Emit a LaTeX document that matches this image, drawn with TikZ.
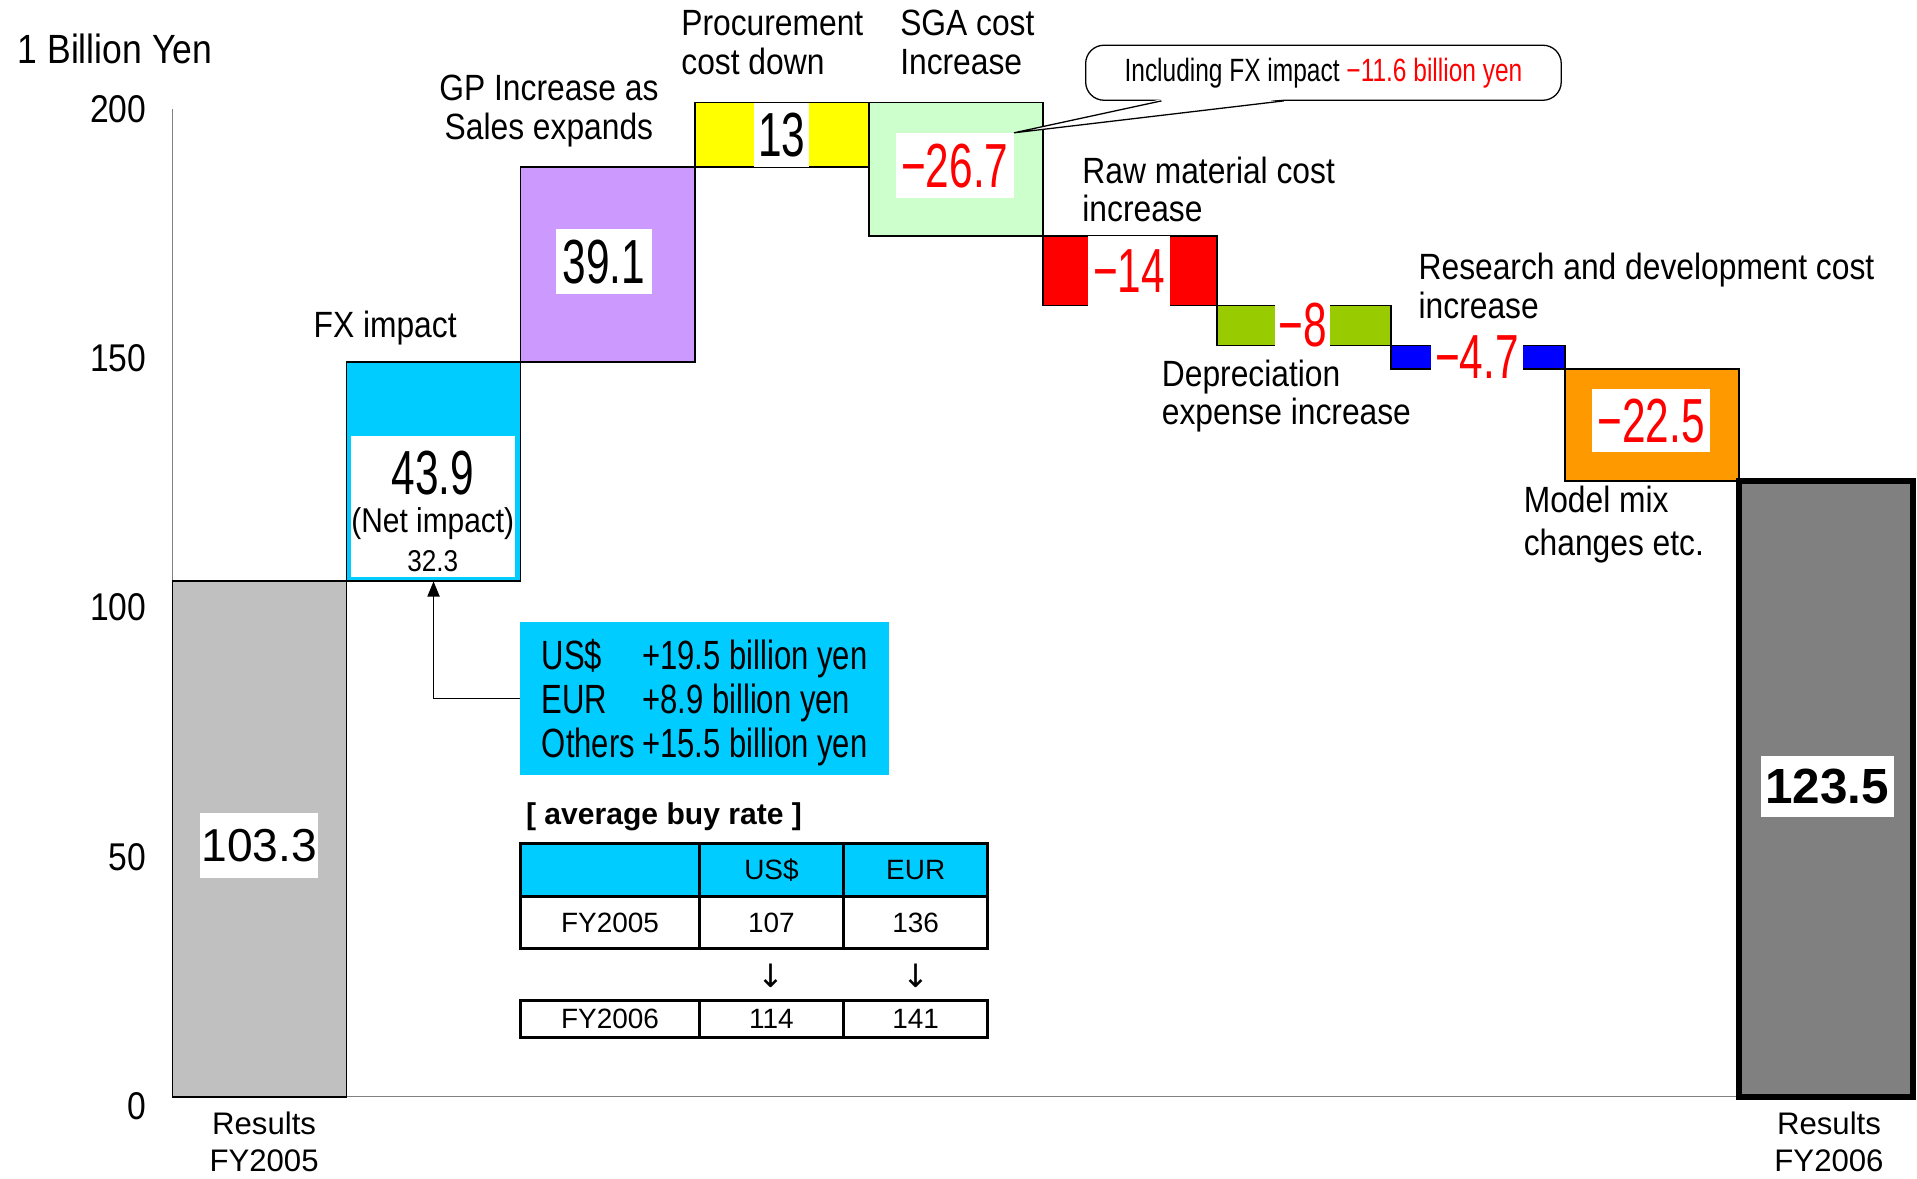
\documentclass[tikz,border=0pt]{standalone}
\usepackage{fontspec}
\setmainfont{Liberation Sans}
\newfontfamily\narrowfont[FakeStretch=0.87]{Liberation Sans}
\newfontfamily\condfont[FakeStretch=0.76]{Liberation Sans}
\newfontfamily\tallfont[FakeStretch=0.68]{Liberation Sans}
\newfontfamily\arrowfont{DejaVu Sans}
\usetikzlibrary{arrows.meta}

\definecolor{barGray}{HTML}{C0C0C0}
\definecolor{fxCyan}{HTML}{00CCFF}
\definecolor{gpPurple}{HTML}{CC99FF}
\definecolor{procYellow}{HTML}{FFFF00}
\definecolor{sgaGreen}{HTML}{CCFFCC}
\definecolor{rawRed}{HTML}{FF0000}
\definecolor{depGreen}{HTML}{99CC00}
\definecolor{rdBlue}{HTML}{0000FF}
\definecolor{mixOrange}{HTML}{FF9900}
\definecolor{resGray}{HTML}{808080}

\begin{document}
\begin{tikzpicture}[
  bar/.style={draw, line width=0.8pt},
  val/.style={fill=white, inner sep=0pt, font=\tallfont\fontsize{29}{29}\selectfont},
  neg/.style={val, text=red},
  lbl/.style={font=\narrowfont\fontsize{17}{18.1}\selectfont, align=left, anchor=west, inner sep=0pt},
  tick/.style={font=\narrowfont\fontsize{18}{18}\selectfont, anchor=east, inner sep=0pt},
  res/.style={font=\fontsize{14.5}{17.6}\selectfont, align=center, inner sep=0pt},
  cell/.style={draw, line width=1.4pt, inner sep=0pt, font=\fontsize{13}{13}\selectfont},
  c0/.style={cell, minimum width=2.92cm},
  c1/.style={cell, minimum width=2.36cm}
]
\useasboundingbox (0,0) rectangle (31.36,19.28);

% Axes and scale
\draw[resGray, line width=0.6pt] (2.82,17.5) -- (2.82,1.34) -- (31.3,1.34);
\foreach \v in {0,50,...,200}
  \node[tick] at (2.4,{1.18+0.0816*\v}) {\v};
\node[font=\narrowfont\fontsize{19}{19}\selectfont, inner sep=0pt] (unit) at (1.88,18.48) {1 Billion Yen};

% Waterfall bars (value scale)
\begin{scope}[shift={(2.82,1.34)}, x=2.848cm, y=0.0816cm]
\foreach \i/\lo/\hi/\col in {0/0/103.3/barGray, 1/103.3/147.2/fxCyan, 2/147.2/186.3/gpPurple,
    3/186.3/199.3/procYellow, 4/172.6/199.3/sgaGreen, 5/158.6/172.6/rawRed,
    6/150.6/158.6/depGreen, 7/145.9/150.6/rdBlue, 8/123.4/145.9/mixOrange}
  \draw[bar, fill=\col] (\i,\lo) rectangle (\i+1,\hi);
\draw[bar, fill=resGray, line width=2.8pt] (9,0) rectangle (10,123.5);
\coordinate (fxbot) at (1.5,103.3);
\end{scope}

% Values
\node[fill=white, inner sep=0pt, minimum width=1.94cm, minimum height=1.06cm, font=\fontsize{21.5}{21.5}\selectfont] (v0) at (4.24,5.45) {103.3};
\node[fill=white, minimum width=2.68cm, minimum height=2.3cm] (v1) at (7.08,10.99) {};
\node[val] (v1a) at (7.08,11.54) {43.9};
\node[font=\narrowfont\fontsize{16}{16}\selectfont, inner sep=0pt] (v1b) at (7.08,10.72) {(Net impact)};
\node[font=\narrowfont\fontsize{14}{14}\selectfont, inner sep=0pt] (v1c) at (7.08,10.10) {32.3};
\node[val, minimum width=1.56cm, minimum height=1.06cm] (v2) at (9.88,15.0) {39.1};
\node[val, minimum width=0.9cm, minimum height=1.06cm] (v3) at (12.79,17.07) {13};
\node[neg, minimum width=1.92cm, minimum height=1.06cm] (v4) at (15.62,16.57) {−26.7};
\node[neg, minimum width=1.34cm, minimum height=1.14cm] (v5) at (18.47,14.85) {−14};
\node[neg, minimum width=0.9cm, minimum height=0.7cm] (v6) at (21.31,13.96) {−8};
\node[neg, minimum width=1.5cm, minimum height=0.72cm] (v7) at (24.16,13.44) {−4.7};
\node[neg, minimum width=1.94cm, minimum height=1.04cm] (v8) at (27.01,12.4) {−22.5};
\node[fill=white, inner sep=0pt, minimum width=2.18cm, minimum height=1.0cm, font=\bfseries\fontsize{23}{23}\selectfont] (v9) at (29.89,6.42) {123.5};

% Item labels
\node[lbl, anchor=center, align=center] (fxl) at (6.3,13.92) {FX impact};
\node[lbl, anchor=center, align=center] (gpl) at (8.98,17.46) {GP Increase as\\Sales expands};
\node[lbl] (procl) at (11.14,18.58) {Procurement\\cost down};
\node[lbl] (sgal) at (14.72,18.58) {SGA cost\\Increase};
\node[lbl] (rawl) at (17.7,16.18) {Raw material cost\\increase};
\node[lbl] (rdl) at (23.2,14.6) {Research and development cost\\increase};
\node[lbl] (depl) at (19.0,12.8) {Depreciation\\expense increase};
\node[lbl, font=\narrowfont\fontsize{17}{20.4}\selectfont] (mixl) at (24.92,10.7) {Model mix\\changes etc.};
\node[res] (r05) at (4.32,0.6) {Results\\FY2005};
\node[res] (r06) at (29.92,0.6) {Results\\FY2006};

% SGA note
\node[draw, line width=0.6pt, rounded corners=0.3cm, minimum width=7.78cm, minimum height=0.9cm,
  font=\condfont\fontsize{15}{15}\selectfont] (note) at (21.65,18.09)
  {Including FX impact \textcolor{red}{−11.6 billion yen}};
\fill[white] ([xshift=-2.65cm, yshift=0.8pt]note.south) -- (v4.north east) -- ([xshift=-0.65cm, yshift=0.8pt]note.south) -- cycle;
\draw[line width=0.6pt] ([xshift=-2.65cm]note.south) -- (v4.north east) -- ([xshift=-0.65cm]note.south);

% FX breakdown
\node[fill=fxCyan, anchor=west, minimum width=6.04cm, minimum height=2.5cm] (info) at (8.5,7.85) {};
\node[font=\condfont\fontsize{19}{20.4}\selectfont, inner sep=0pt] (infotxt) at ([yshift=-0.1cm]info.center)
  {\begin{tabular}{@{}l@{\hspace{0.12cm}}l@{}}
    US\$ & +19.5 billion yen\\
    EUR & +8.9 billion yen\\
    Others & +15.5 billion yen
  \end{tabular}};
\draw[-{Triangle[length=0.25cm, width=0.2cm]}, line width=0.6pt] (info.west) -| (fxbot);

% Average buy rate table
\node[anchor=west, inner sep=0pt, font=\bfseries\fontsize{14}{14}\selectfont] (rate) at (8.6,5.92) {[ average buy rate ]};
\node[c0, fill=fxCyan, minimum height=0.86cm] (h0) at (9.98,5.05) {};
\node[c1, fill=fxCyan, minimum height=0.86cm] (h1) at (12.62,5.05) {US\$};
\node[c1, fill=fxCyan, minimum height=0.86cm] (h2) at (14.98,5.05) {EUR};
\node[c0, minimum height=0.86cm] (a0) at (9.98,4.19) {FY2005};
\node[c1, minimum height=0.86cm] (a1) at (12.62,4.19) {107};
\node[c1, minimum height=0.86cm] (a2) at (14.98,4.19) {136};
\node[font=\arrowfont\fontsize{15}{15}\selectfont] (d1) at (12.62,3.32) {↓};
\node[font=\arrowfont\fontsize{15}{15}\selectfont] (d2) at (14.98,3.32) {↓};
\node[c0, minimum height=0.62cm] (b0) at (9.98,2.61) {FY2006};
\node[c1, minimum height=0.62cm] (b1) at (12.62,2.61) {114};
\node[c1, minimum height=0.62cm] (b2) at (14.98,2.61) {141};
\end{tikzpicture}
\end{document}
